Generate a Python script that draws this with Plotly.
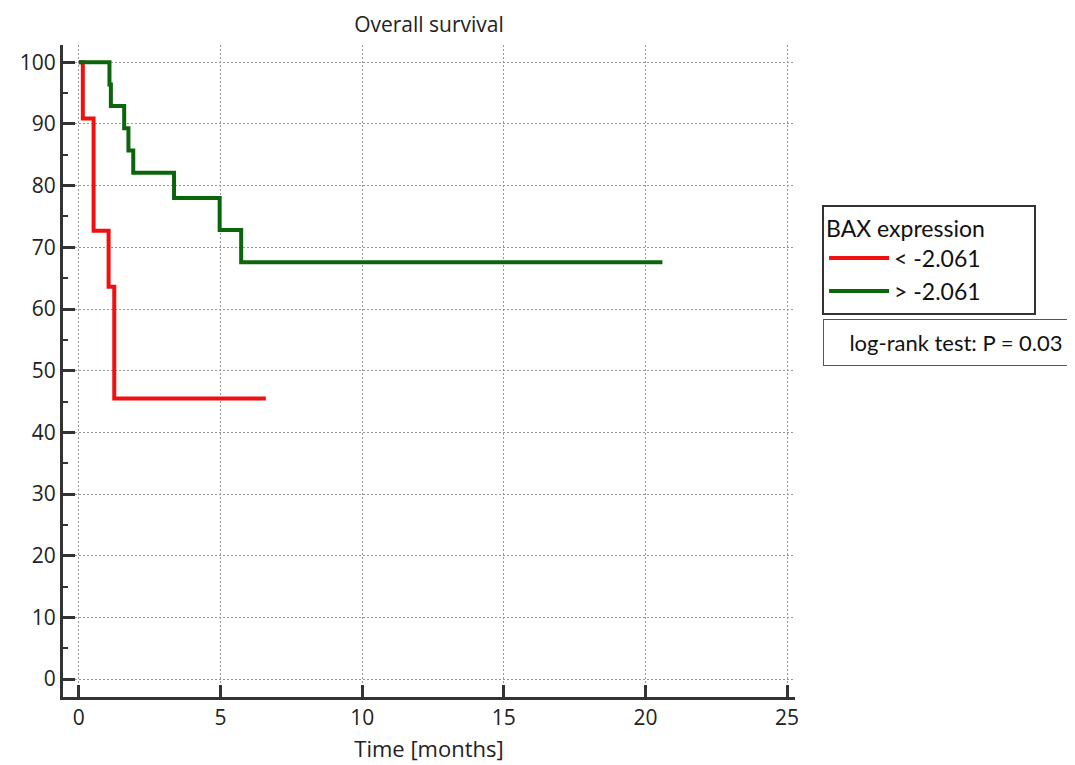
import plotly.graph_objects as go

# Kaplan-Meier step data (time in months, survival in %)
low_time = [0, 0.14, 0.52, 1.05, 1.25, 6.6]
low_surv = [100, 90.9, 72.7, 63.6, 45.5, 45.5]
high_time = [0, 1.08, 1.13, 1.6, 1.75, 1.92, 3.36, 4.97, 5.73, 20.6]
high_surv = [100, 96.4, 92.9, 89.3, 85.7, 82.1, 78.0, 72.8, 67.6, 67.6]

series_names = ["< -2.061", "> -2.061"]
x_ticks = [0, 5, 10, 15, 20, 25]
y_ticks = [0, 10, 20, 30, 40, 50, 60, 70, 80, 90, 100]

fig = go.Figure()
fig.add_trace(go.Scatter(x=low_time, y=low_surv, mode="lines", line_shape="hv",
                         name=series_names[0], line=dict(color="#f01010", width=4)))
fig.add_trace(go.Scatter(x=high_time, y=high_surv, mode="lines", line_shape="hv",
                         name=series_names[1], line=dict(color="#0b650b", width=4)))

tick_font = dict(family="Open Sans", size=21, color="#222")
title_font = dict(family="Open Sans", size=21, color="#222")
label_font = dict(family="Open Sans", size=22, color="#222")
legend_font = dict(family="Lato", size=23, color="#111")
note_font = dict(family="Lato", size=22, color="#111")

fig.update_layout(
    width=1075, height=765,
    paper_bgcolor="white", plot_bgcolor="white",
    margin=dict(l=52, r=288, t=37, b=76),
    title=dict(text="Overall survival", x=0.5, xref="paper", xanchor="center",
               y=1 - 17 / 765, yref="container", yanchor="middle", font=title_font),
    xaxis=dict(range=[-0.56, 25.28], tickvals=x_ticks, ticks="inside", ticklen=12,
               tickwidth=3, tickcolor="#333", showline=True, linewidth=3, linecolor="#333",
               showgrid=True, gridcolor="#999", griddash="2px,2px", gridwidth=1,
               zeroline=False, tickfont=tick_font,
               title=dict(text="Time [months]", font=label_font, standoff=12)),
    yaxis=dict(range=[-2.9, 102.8], tickvals=y_ticks, ticks="inside", ticklen=12,
               tickwidth=3, tickcolor="#333", showline=True, linewidth=3, linecolor="#333",
               showgrid=True, gridcolor="#999", griddash="2px,2px", gridwidth=1,
               zeroline=False, tickfont=tick_font,
               minor=dict(dtick=5, ticks="inside", ticklen=5, tickwidth=2, tickcolor="#333",
                          showgrid=False)),
    legend=dict(x=1.037, y=0.755, xanchor="left", yanchor="top",
                bordercolor="#333", borderwidth=2, bgcolor="white",
                font=legend_font,
                title=dict(text="BAX expression" + "\u00a0" * 8, font=legend_font),
                tracegroupgap=0, itemwidth=60),
    showlegend=True,
)

fig.add_annotation(text="log-rank test: P = 0.03", xref="paper", yref="paper",
                   x=1.038, y=0.544, xanchor="left", yanchor="middle", showarrow=False,
                   align="center", width=246, font=note_font,
                   bordercolor="#555", borderwidth=1, borderpad=9, bgcolor="white")

fig.write_html("out.html")
